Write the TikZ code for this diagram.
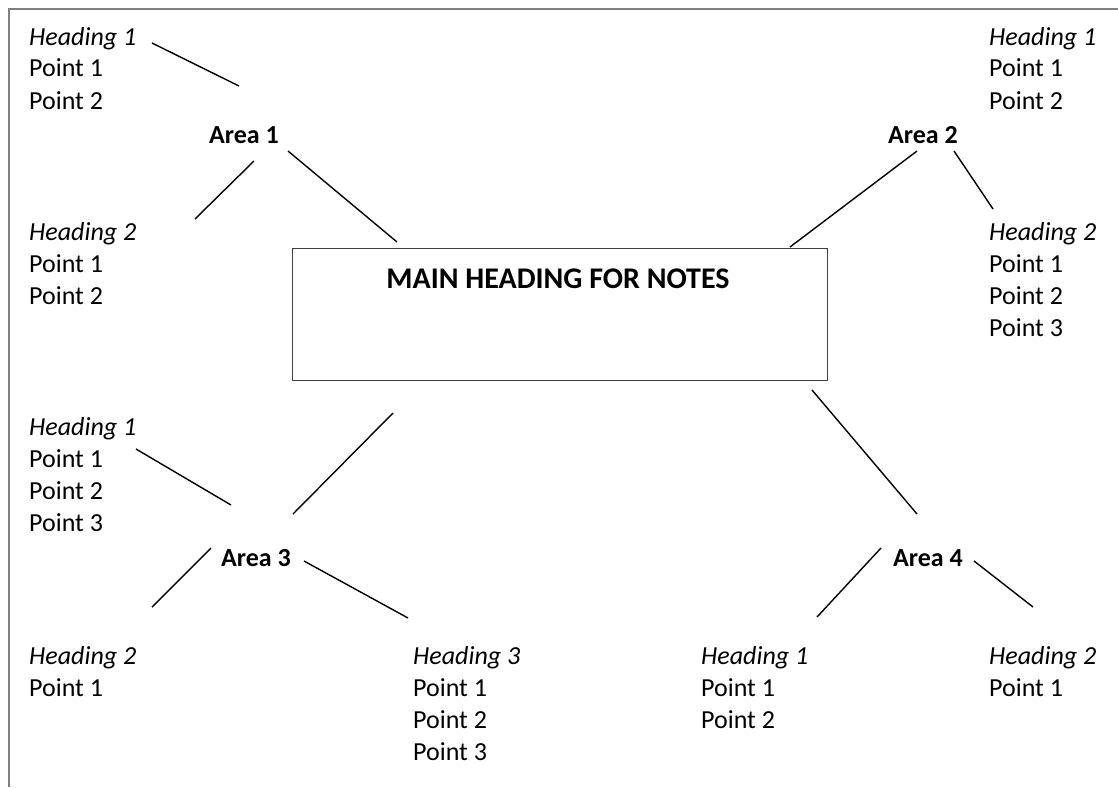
\documentclass[tikz,border=0pt]{standalone}
\usepackage{fontspec}
\setmainfont{Carlito}
\newcommand{\blk}[1]{\begin{tabular}[t]{@{}l@{}}#1\end{tabular}}
\begin{document}
\begin{tikzpicture}[x=1pt,y=-1pt,
  txt/.style={anchor=base west, inner sep=0pt, font=\fontsize{26}{32}\selectfont},
  area/.style={anchor=base, inner sep=0pt, font=\fontsize{26}{32}\selectfont\bfseries},
  conn/.style={line width=1.4pt, black},
  framestyle/.style={line width=1.3pt, black!50}]
\useasboundingbox (0,0) rectangle (1118,787);
% page frame
\draw[framestyle] (9,787) -- (9,9) -- (1118,9);
% main box
\node[draw=black!75, line width=1pt, minimum width=535pt, minimum height=132pt,
      anchor=north west, inner sep=0pt] (main) at (292,248) {};
\node[anchor=base, inner sep=0pt, font=\fontsize{30}{36}\selectfont\bfseries] (title) at (558,288) {MAIN HEADING FOR NOTES};
% area labels
\node[area] (a1) at (244,143) {Area 1};
\node[area] (a2) at (923,143) {Area 2};
\node[area] (a3) at (256,566) {Area 3};
\node[area] (a4) at (928,566) {Area 4};
% text blocks
\node[txt] (a1h1) at (29,45) {\blk{\textit{Heading 1}\\Point 1\\Point 2}};
\node[txt] (a1h2) at (29,240) {\blk{\textit{Heading 2}\\Point 1\\Point 2}};
\node[txt] (a2h1) at (989,45) {\blk{\textit{Heading 1}\\Point 1\\Point 2}};
\node[txt] (a2h2) at (989,240) {\blk{\textit{Heading 2}\\Point 1\\Point 2\\Point 3}};
\node[txt] (a3h1) at (29,435) {\blk{\textit{Heading 1}\\Point 1\\Point 2\\Point 3}};
\node[txt] (a3h2) at (29,664) {\blk{\textit{Heading 2}\\Point 1}};
\node[txt] (a3h3) at (413,664) {\blk{\textit{Heading 3}\\Point 1\\Point 2\\Point 3}};
\node[txt] (a4h1) at (701,664) {\blk{\textit{Heading 1}\\Point 1\\Point 2}};
\node[txt] (a4h2) at (989,664) {\blk{\textit{Heading 2}\\Point 1}};
% connector end points
\coordinate (p1a) at (152,43);  \coordinate (p1b) at (239,86);
\coordinate (p2a) at (254,161); \coordinate (p2b) at (195,219);
\coordinate (p3a) at (288,151); \coordinate (p3b) at (397,242);
\coordinate (p4a) at (917,151); \coordinate (p4b) at (790,247);
\coordinate (p5a) at (954,151); \coordinate (p5b) at (993,209);
\coordinate (p6a) at (136,449); \coordinate (p6b) at (231,505);
\coordinate (p7a) at (393,413); \coordinate (p7b) at (293,514);
\coordinate (p8a) at (211,548); \coordinate (p8b) at (152,607);
\coordinate (p9a) at (304,561); \coordinate (p9b) at (408,618);
\coordinate (q1a) at (812,390); \coordinate (q1b) at (917,514);
\coordinate (q2a) at (881,548); \coordinate (q2b) at (817,617);
\coordinate (q3a) at (974,561); \coordinate (q3b) at (1033,607);
% connectors
\draw[conn] (p1a) -- (p1b);
\draw[conn] (p2a) -- (p2b);
\draw[conn] (p3a) -- (p3b);
\draw[conn] (p4a) -- (p4b);
\draw[conn] (p5a) -- (p5b);
\draw[conn] (p6a) -- (p6b);
\draw[conn] (p7a) -- (p7b);
\draw[conn] (p8a) -- (p8b);
\draw[conn] (p9a) -- (p9b);
\draw[conn] (q1a) -- (q1b);
\draw[conn] (q2a) -- (q2b);
\draw[conn] (q3a) -- (q3b);
\end{tikzpicture}
\end{document}
